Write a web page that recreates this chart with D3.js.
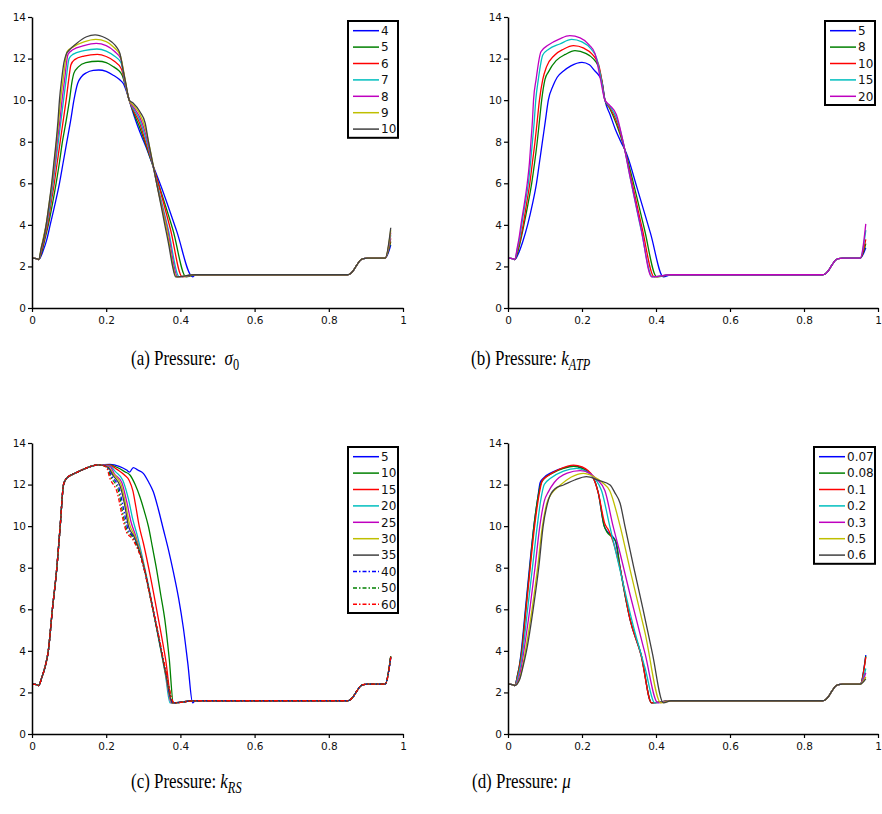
<!DOCTYPE html>
<html>
<head>
<meta charset="utf-8">
<script src="https://cdn.jsdelivr.net/npm/d3@7"></script>
<style>
  body { margin: 0; background: #fff; }
  svg { display: block; }
  .tick text { font-family: "DejaVu Sans", sans-serif; font-size: 10.5px; fill: #111; }
  .legend text { font-family: "DejaVu Sans", sans-serif; font-size: 12px; fill: #111; }
  .caption { font-family: "Liberation Serif", "Times New Roman", serif; font-size: 22px; fill: #000; }
</style>
</head>
<body>
<svg width="882" height="814"></svg>
<script>
const xTicks = [0, 0.2, 0.4, 0.6, 0.8, 1];
const yTicks = [0, 2, 4, 6, 8, 10, 12, 14];

// shared start (small dip) and the flat tail every run has
const start = [[0, 2.4], [0.012, 2.38], [0.018, 2.33]];
const tail = [[0.44, 1.6], [0.85, 1.6], [0.858, 1.65], [0.866, 1.8], [0.875, 2.05], [0.884, 2.28], [0.893, 2.38], [0.905, 2.4], [0.952, 2.4]];
const xEnd = 0.967;

// (a) sigma_0
const labelsA = ['4', '5', '6', '7', '8', '9', '10'];
const humpA = [
  [[0.03,2.75],[0.04,3.3],[0.049,4],[0.062,5],[0.074,6],[0.084,7],[0.094,8],[0.104,9],[0.113,10],[0.123,10.8],[0.133,11.12],[0.147,11.32],[0.165,11.43],[0.18,11.45],[0.2,11.38],[0.219,11.2],[0.235,11.0],[0.246,10.8],[0.255,10.4],[0.262,10],[0.276,9.2],[0.29,8.5],[0.306,7.8],[0.322,7.05],[0.35,5.75],[0.39,3.7],[0.433,1.5]],
  [[0.028,2.8],[0.036,3.4],[0.044,4],[0.055,5],[0.065,6],[0.074,7],[0.082,8],[0.092,9],[0.101,10],[0.108,10.9],[0.113,11.3],[0.125,11.6],[0.145,11.8],[0.178,11.87],[0.2,11.8],[0.22,11.6],[0.232,11.45],[0.243,11.2],[0.253,10.6],[0.262,10],[0.276,9.3],[0.29,8.7],[0.306,7.9],[0.322,7.05],[0.345,5.75],[0.38,3.75],[0.415,1.5]],
  [[0.027,2.85],[0.035,3.45],[0.042,4],[0.051,5],[0.06,6],[0.068,7],[0.076,8],[0.084,9],[0.092,10],[0.099,11],[0.105,11.7],[0.115,11.95],[0.14,12.12],[0.176,12.2],[0.2,12.1],[0.22,11.9],[0.241,11.5],[0.252,10.7],[0.262,10],[0.276,9.4],[0.29,8.9],[0.306,8.0],[0.322,7.1],[0.34,6.0],[0.373,3.8],[0.405,1.5]],
  [[0.026,2.9],[0.034,3.5],[0.04,4],[0.049,5],[0.057,6],[0.064,7],[0.071,8],[0.078,9],[0.085,10],[0.092,11],[0.1,12.0],[0.11,12.2],[0.14,12.38],[0.175,12.46],[0.2,12.36],[0.222,12.12],[0.24,11.8],[0.25,10.9],[0.262,10],[0.276,9.5],[0.29,9.05],[0.306,8.2],[0.322,7.15],[0.337,6.0],[0.367,3.8],[0.397,1.5]],
  [[0.026,2.9],[0.033,3.5],[0.039,4],[0.047,5],[0.055,6],[0.062,7],[0.068,8],[0.075,9],[0.081,10],[0.088,11],[0.097,12.2],[0.11,12.42],[0.14,12.62],[0.173,12.73],[0.2,12.62],[0.222,12.35],[0.239,12.0],[0.25,11.0],[0.262,10],[0.276,9.6],[0.29,9.2],[0.306,8.4],[0.322,7.2],[0.336,6.0],[0.365,3.8],[0.393,1.5]],
  [[0.025,2.9],[0.032,3.5],[0.038,4],[0.046,5],[0.054,6],[0.06,7],[0.066,8],[0.072,9],[0.077,10],[0.084,11],[0.095,12.35],[0.11,12.55],[0.14,12.8],[0.172,12.92],[0.2,12.82],[0.222,12.52],[0.238,12.15],[0.25,11.1],[0.262,10],[0.276,9.7],[0.29,9.35],[0.306,8.6],[0.322,7.3],[0.336,6.0],[0.363,3.8],[0.39,1.5]],
  [[0.025,2.9],[0.032,3.4],[0.038,4],[0.046,5],[0.053,6],[0.059,7],[0.065,8],[0.07,9],[0.074,10],[0.08,11],[0.086,11.8],[0.092,12.2],[0.1,12.4],[0.12,12.73],[0.147,13.05],[0.17,13.14],[0.197,13.0],[0.215,12.8],[0.228,12.55],[0.237,12.25],[0.245,11.5],[0.253,10.8],[0.262,10],[0.273,9.85],[0.291,9.44],[0.305,8.9],[0.314,8.0],[0.325,7.0],[0.336,6.0],[0.347,5.0],[0.358,4.0],[0.369,3.0],[0.379,2.0],[0.387,1.5]]
];
const endA = [3.03, 3.2, 3.35, 3.5, 3.62, 3.75, 3.86];

// (b) k_ATP
const labelsB = ['5', '8', '10', '15', '20'];
const humpB = [
  [[0.03,2.7],[0.04,3.2],[0.053,4],[0.066,5],[0.077,6],[0.085,7],[0.093,8],[0.101,9],[0.109,10],[0.122,10.7],[0.133,11.1],[0.15,11.4],[0.17,11.65],[0.2,11.82],[0.22,11.7],[0.235,11.4],[0.245,11.2],[0.254,10.9],[0.262,10],[0.276,9.3],[0.29,8.6],[0.305,8.0],[0.32,7.44],[0.348,5.83],[0.385,3.6],[0.42,1.5]],
  [[0.028,2.8],[0.036,3.4],[0.043,4],[0.054,5],[0.064,6],[0.072,7],[0.079,8],[0.085,9],[0.091,10],[0.1,11],[0.109,11.35],[0.13,11.9],[0.155,12.2],[0.181,12.38],[0.21,12.25],[0.23,12.0],[0.245,11.6],[0.253,11.0],[0.262,10],[0.275,9.6],[0.293,8.85],[0.311,7.9],[0.335,6.3],[0.368,3.85],[0.402,1.5]],
  [[0.027,2.85],[0.035,3.45],[0.041,4],[0.05,5],[0.059,6],[0.066,7],[0.073,8],[0.079,9],[0.085,10],[0.094,11],[0.104,11.6],[0.125,12.15],[0.15,12.45],[0.177,12.62],[0.205,12.5],[0.228,12.2],[0.245,11.7],[0.253,11.0],[0.262,10],[0.275,9.65],[0.293,9.0],[0.311,7.95],[0.332,6.3],[0.363,3.8],[0.395,1.5]],
  [[0.026,2.9],[0.033,3.5],[0.037,4],[0.046,5],[0.055,6],[0.061,7],[0.066,8],[0.071,9],[0.075,10],[0.082,11],[0.094,12.17],[0.11,12.45],[0.14,12.7],[0.172,12.92],[0.2,12.8],[0.225,12.45],[0.24,12.0],[0.252,11.0],[0.262,10],[0.275,9.7],[0.293,9.15],[0.311,8.0],[0.33,6.3],[0.36,3.75],[0.39,1.5]],
  [[0.025,2.9],[0.031,3.5],[0.035,4],[0.044,5],[0.052,6],[0.058,7],[0.062,8],[0.066,9],[0.069,10],[0.076,11],[0.089,12.33],[0.109,12.65],[0.14,12.95],[0.167,13.1],[0.195,13.0],[0.22,12.65],[0.235,12.25],[0.25,11.0],[0.262,10],[0.275,9.75],[0.293,9.3],[0.311,8.0],[0.33,6.3],[0.36,3.8],[0.388,1.5]]
];
const endB = [2.9, 3.1, 3.3, 3.75, 4.05];

// (c) k_RS
const labelsC = ['5', '10', '15', '20', '25', '30', '35', '40', '50', '60'];
const riseC = [[0.026,2.7],[0.034,3.15],[0.044,4],[0.055,6],[0.067,8],[0.076,10],[0.085,12],[0.093,12.3],[0.12,12.58],[0.15,12.82],[0.18,12.95]];
const fallC = [
  [[0.21,12.97],[0.235,12.88],[0.255,12.7],[0.263,12.6],[0.273,12.82],[0.285,12.7],[0.3,12.54],[0.315,12.1],[0.327,11.65],[0.34,10.85],[0.354,9.85],[0.368,8.85],[0.381,7.8],[0.395,6.55],[0.408,5.1],[0.42,3.4],[0.433,1.5]],
  [[0.21,12.95],[0.23,12.82],[0.25,12.62],[0.264,12.46],[0.278,12.0],[0.291,11.4],[0.303,10.7],[0.314,9.97],[0.325,8.95],[0.336,7.9],[0.347,6.7],[0.358,5.5],[0.37,3.6],[0.381,1.5]],
  [[0.21,12.93],[0.23,12.72],[0.25,12.45],[0.262,12.2],[0.272,11.7],[0.28,10.93],[0.289,10.0],[0.3,9.2],[0.32,7.5],[0.34,5.6],[0.36,3.6],[0.378,1.5]],
  [[0.21,12.9],[0.225,12.62],[0.245,12.2],[0.26,11.3],[0.272,10.3],[0.283,9.6],[0.3,8.3],[0.32,6.6],[0.34,4.7],[0.36,2.8],[0.372,1.5]],
  [[0.21,12.88],[0.222,12.52],[0.242,12.1],[0.255,11.2],[0.267,10.2],[0.28,9.5],[0.3,8.2],[0.32,6.55],[0.34,4.8],[0.36,2.9],[0.375,1.5]],
  [[0.205,12.85],[0.22,12.5],[0.24,12.0],[0.252,11.1],[0.263,10.1],[0.278,9.5],[0.3,8.2],[0.32,6.5],[0.34,4.75],[0.36,2.9],[0.377,1.5]],
  [[0.205,12.83],[0.218,12.45],[0.238,11.9],[0.25,11.0],[0.26,10.0],[0.275,9.5],[0.3,8.15],[0.32,6.5],[0.34,4.75],[0.36,2.95],[0.378,1.5]],
  [[0.2,12.88],[0.215,12.4],[0.235,11.8],[0.247,10.8],[0.258,9.9],[0.272,9.5],[0.3,8.1],[0.32,6.5],[0.34,4.8],[0.36,3.0],[0.38,1.5]],
  [[0.2,12.86],[0.213,12.35],[0.233,11.7],[0.245,10.6],[0.256,9.8],[0.27,9.5],[0.3,8.1],[0.32,6.5],[0.34,4.8],[0.36,3.05],[0.382,1.5]],
  [[0.2,12.85],[0.21,12.3],[0.23,11.6],[0.243,10.5],[0.255,9.7],[0.27,9.4],[0.3,8.1],[0.32,6.5],[0.34,4.85],[0.36,3.1],[0.383,1.5]]
];
const endC = [3.7, 3.75, 3.72, 3.7, 3.68, 3.7, 3.72, 3.68, 3.75, 3.7];

// (d) mu
const labelsD = ['0.07', '0.08', '0.1', '0.2', '0.3', '0.5', '0.6'];
const humpD = [
  [[0.026,2.85],[0.031,3.3],[0.036,4],[0.047,6],[0.058,8],[0.07,10],[0.08,11.3],[0.087,12.1],[0.095,12.3],[0.12,12.6],[0.15,12.8],[0.177,12.9],[0.2,12.8],[0.228,12.4],[0.244,11.6],[0.26,10],[0.268,9.75],[0.28,9.55],[0.29,9.3],[0.303,8.0],[0.33,5.5],[0.36,3.8],[0.388,1.5]],
  [[0.026,2.85],[0.031,3.3],[0.037,4],[0.048,6],[0.059,8],[0.07,10],[0.08,11.3],[0.088,12.0],[0.096,12.25],[0.12,12.55],[0.15,12.78],[0.177,12.88],[0.2,12.78],[0.228,12.4],[0.244,11.6],[0.26,10],[0.268,9.7],[0.28,9.5],[0.292,9.25],[0.303,8.0],[0.33,5.5],[0.36,3.8],[0.388,1.5]],
  [[0.027,2.85],[0.032,3.3],[0.038,4],[0.049,6],[0.06,8],[0.072,10],[0.082,11.3],[0.093,12.2],[0.11,12.45],[0.14,12.75],[0.177,12.94],[0.2,12.85],[0.228,12.42],[0.244,11.6],[0.262,10.1],[0.272,9.8],[0.285,9.2],[0.303,7.95],[0.33,5.5],[0.36,3.75],[0.388,1.5]],
  [[0.028,2.8],[0.034,3.3],[0.04,4],[0.053,6],[0.066,8],[0.079,10],[0.089,11.3],[0.098,12.0],[0.115,12.3],[0.15,12.65],[0.186,12.78],[0.21,12.65],[0.235,12.3],[0.253,11.7],[0.275,10],[0.3,8.1],[0.34,5.1],[0.37,3.2],[0.397,1.5]],
  [[0.03,2.75],[0.037,3.3],[0.043,4],[0.059,6],[0.073,8],[0.086,10],[0.098,11.2],[0.109,11.65],[0.125,12.1],[0.16,12.55],[0.195,12.67],[0.22,12.55],[0.24,12.25],[0.262,11.7],[0.284,10],[0.3,8.9],[0.33,6.7],[0.37,3.9],[0.405,1.5]],
  [[0.032,2.7],[0.04,3.3],[0.047,4],[0.065,6],[0.08,8],[0.093,10],[0.105,11.1],[0.118,11.57],[0.14,11.95],[0.17,12.35],[0.204,12.54],[0.23,12.4],[0.255,12.1],[0.275,11.7],[0.303,10],[0.33,7.9],[0.37,4.9],[0.413,1.5]],
  [[0.032,2.65],[0.04,3.2],[0.05,4],[0.068,6],[0.083,8],[0.095,10],[0.11,11.3],[0.127,11.8],[0.15,11.98],[0.18,12.22],[0.212,12.38],[0.245,12.2],[0.276,11.98],[0.289,11.6],[0.303,11.1],[0.316,10],[0.34,8],[0.365,6],[0.39,3.9],[0.42,1.5]]
];
const endD = [3.8, 3.75, 3.7, 3.15, 2.95, 2.75, 2.65];

const blue = '#0000ff', green = '#008000', red = '#ff0000', cyan = '#00bfbf',
  magenta = '#bf00bf', yellow = '#bfbf00', grey = '#404040';
const seven = [blue, green, red, cyan, magenta, yellow, grey];

const seriesA = humpA.map((h, i) => ({ name: labelsA[i], color: seven[i], pts: start.concat(h, tail, [[xEnd, endA[i]]]) }));
const seriesB = humpB.map((h, i) => ({ name: labelsB[i], color: [blue, green, red, cyan, magenta][i], pts: start.concat(h, tail, [[xEnd, endB[i]]]) }));
const seriesC = fallC.map((f, i) => ({
  name: labelsC[i],
  color: seven.concat([blue, green, red])[i],
  dash: i >= 7 ? '4,2,1.5,2' : null,
  pts: start.concat(riseC, f, tail, [[xEnd, endC[i]]])
}));
const seriesD = humpD.map((h, i) => ({ name: labelsD[i], color: seven[i], pts: start.concat(h, tail, [[xEnd, endD[i]]]) }));

const panels = [
  { left: 32, right: 403, bottom: 308, top: 17, series: seriesA, lg: { x: 348, y: 21, w: 50 } },
  { left: 508, right: 878, bottom: 308, top: 17, series: seriesB, lg: { x: 825, y: 21, w: 50 } },
  { left: 32, right: 403, bottom: 734, top: 443, series: seriesC, lg: { x: 348, y: 447, w: 50 } },
  { left: 508, right: 878, bottom: 734, top: 443, series: seriesD, lg: { x: 814, y: 447, w: 61 } }
];

const svg = d3.select('svg');
svg.append('rect').attr('width', 882).attr('height', 814).attr('fill', '#fff');

panels.forEach((p) => {
  const x = d3.scaleLinear().domain([0, 1]).range([p.left, p.right]);
  const y = d3.scaleLinear().domain([0, 14]).range([p.bottom, p.top]);

  const line = d3.line()
    .x((d) => x(d[0]))
    .y((d) => y(d[1]))
    .curve(d3.curveMonotoneX);

  svg.append('g')
    .selectAll('path')
    .data(p.series)
    .join('path')
    .attr('d', (d) => line(d.pts))
    .attr('fill', 'none')
    .attr('stroke', (d) => d.color)
    .attr('stroke-width', 1.3)
    .attr('stroke-dasharray', (d) => d.dash);

  const gx = svg.append('g')
    .attr('transform', `translate(0,${p.bottom})`)
    .call(d3.axisBottom(x).tickValues(xTicks).tickFormat(d3.format('')).tickSize(4).tickSizeOuter(0).tickPadding(5));
  const gy = svg.append('g')
    .attr('transform', `translate(${p.left},0)`)
    .call(d3.axisLeft(y).tickValues(yTicks).tickSize(4).tickSizeOuter(0).tickPadding(2));
  [gx, gy].forEach((g) => {
    g.select('.domain').attr('stroke', '#000').attr('stroke-width', 1.5);
    g.selectAll('.tick line').attr('stroke', '#000').attr('stroke-width', 1.2);
    g.attr('font-family', null).attr('font-size', null);
  });

  // legend
  const rowH = 16.4;
  const lg = svg.append('g').attr('class', 'legend');
  lg.append('rect')
    .attr('x', p.lg.x).attr('y', p.lg.y)
    .attr('width', p.lg.w).attr('height', p.series.length * rowH + 2)
    .attr('fill', '#fff').attr('stroke', '#000').attr('stroke-width', 2);
  const rows = lg.selectAll('g.row')
    .data(p.series)
    .join('g')
    .attr('class', 'row')
    .attr('transform', (d, i) => `translate(${p.lg.x + 5},${p.lg.y + 9.7 + i * rowH})`);
  rows.append('line')
    .attr('x1', 0).attr('x2', 26)
    .attr('stroke', (d) => d.color)
    .attr('stroke-width', 1.5)
    .attr('stroke-dasharray', (d) => d.dash);
  rows.append('text')
    .attr('x', 28).attr('dy', '0.36em')
    .text((d) => d.name);
});

// captions
const captions = [
  { x: 131, y: 365, lead: '(a) Pressure:  ', sym: 'σ', sub: '0', subItalic: false },
  { x: 471, y: 365, lead: '(b) Pressure: ', sym: 'k', sub: 'ATP', subItalic: true },
  { x: 131, y: 788, lead: '(c) Pressure: ', sym: 'k', sub: 'RS', subItalic: true },
  { x: 472, y: 788, lead: '(d) Pressure: ', sym: 'μ', sub: '', subItalic: false }
];
captions.forEach((c) => {
  const t = svg.append('g')
    .attr('transform', `translate(${c.x},${c.y}) scale(0.77,1)`)
    .append('text').attr('class', 'caption').attr('xml:space', 'preserve');
  t.append('tspan').text(c.lead);
  t.append('tspan').attr('font-style', 'italic').text(c.sym);
  if (c.sub) {
    t.append('tspan')
      .attr('dy', 5).attr('font-size', 16)
      .attr('font-style', c.subItalic ? 'italic' : 'normal')
      .text(c.sub);
  }
});
</script>
</body>
</html>
